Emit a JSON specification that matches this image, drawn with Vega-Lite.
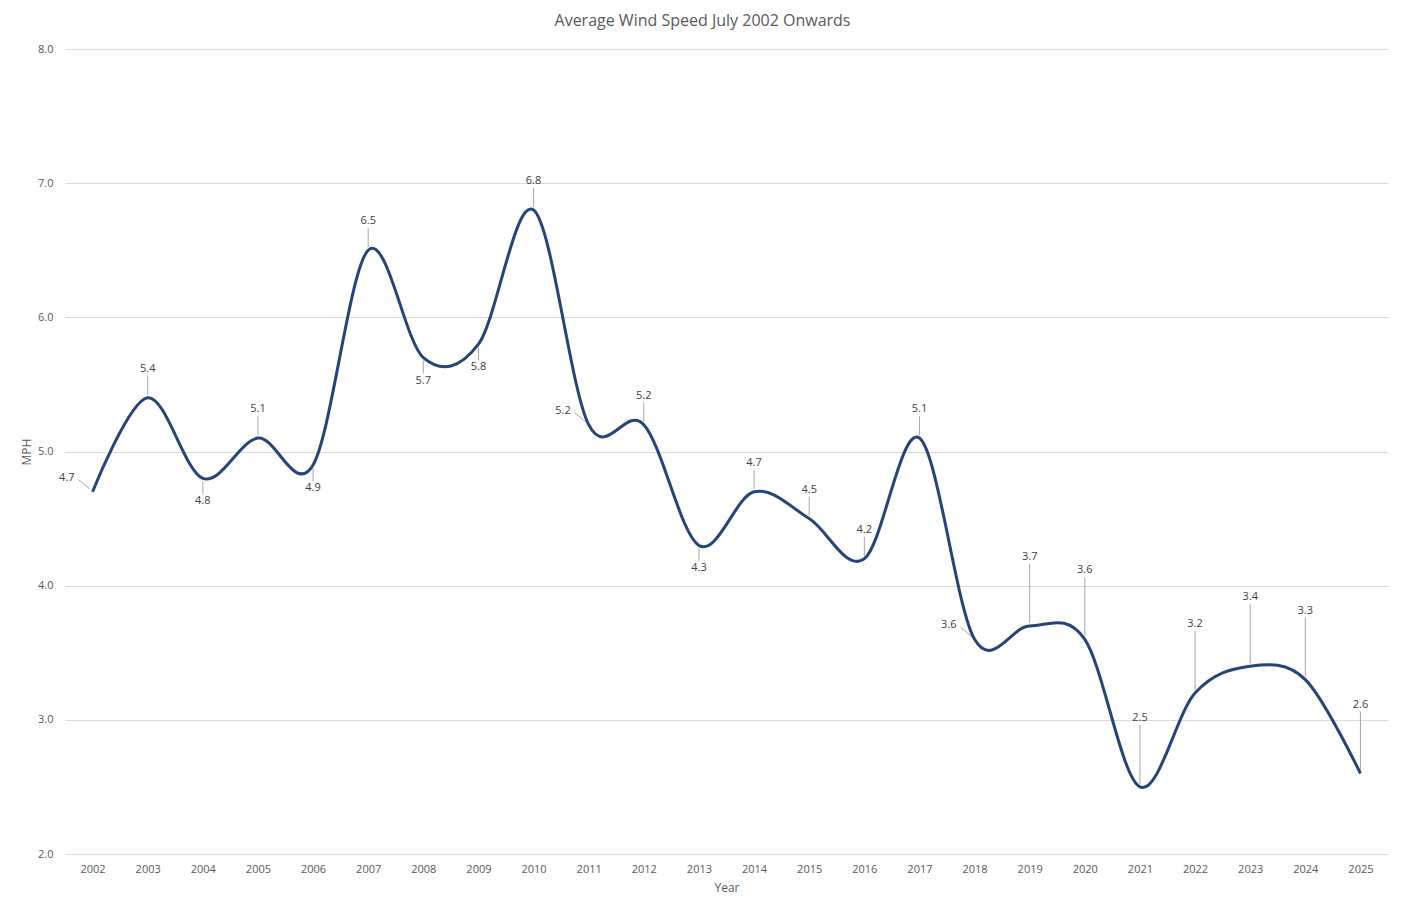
{
  "$schema": "https://vega.github.io/schema/vega-lite/v6.json",
  "autosize": "none",
  "width": 1323,
  "height": 805,
  "padding": {"left": 65, "top": 49, "right": 16, "bottom": 60},
  "background": "white",
  "config": {
    "font": "Open Sans",
    "view": {"stroke": null},
    "axis": {"labelColor": "#595959", "titleColor": "#595959", "labelFontSize": 11, "titleFontSize": 12, "titleFontWeight": "normal", "labelFont": "Open Sans", "titleFont": "Open Sans"}
  },
  "title": {"text": "Average Wind Speed July 2002 Onwards", "fontSize": 16, "fontWeight": "normal", "color": "#595959", "offset": 14, "dx": -24, "font": "Open Sans"},
  "data": {"values": [
    {"Year": 2002, "MPH": 4.7}, {"Year": 2003, "MPH": 5.4}, {"Year": 2004, "MPH": 4.8},
    {"Year": 2005, "MPH": 5.1}, {"Year": 2006, "MPH": 4.9}, {"Year": 2007, "MPH": 6.5},
    {"Year": 2008, "MPH": 5.7}, {"Year": 2009, "MPH": 5.8}, {"Year": 2010, "MPH": 6.8},
    {"Year": 2011, "MPH": 5.2}, {"Year": 2012, "MPH": 5.2}, {"Year": 2013, "MPH": 4.3},
    {"Year": 2014, "MPH": 4.7}, {"Year": 2015, "MPH": 4.5}, {"Year": 2016, "MPH": 4.2},
    {"Year": 2017, "MPH": 5.1}, {"Year": 2018, "MPH": 3.6}, {"Year": 2019, "MPH": 3.7},
    {"Year": 2020, "MPH": 3.6}, {"Year": 2021, "MPH": 2.5}, {"Year": 2022, "MPH": 3.2},
    {"Year": 2023, "MPH": 3.4}, {"Year": 2024, "MPH": 3.3}, {"Year": 2025, "MPH": 2.6}
  ]},
  "encoding": {
    "x": {"field": "Year", "type": "ordinal", "scale": {"type": "point", "padding": 0.5},
          "axis": {"title": "Year", "labelAngle": 0, "domain": false, "ticks": false, "labelPadding": 9, "titlePadding": 8, "grid": false}},
    "y": {"field": "MPH", "type": "quantitative", "scale": {"domain": [2, 8], "nice": false},
          "axis": {"title": "MPH", "values": [2, 3, 4, 5, 6, 7, 8], "format": ".1f", "domain": false, "ticks": false, "labelPadding": 12, "titlePadding": 4, "gridColor": "#d9d9d9", "gridWidth": 1}}
  },
  "layer": [
    {"transform": [{"filter": {"field": "Year", "oneOf": [2003, 2005, 2007, 2010, 2012, 2014, 2015, 2016, 2017]}}],
     "mark": {"type": "rule", "color": "#a6a6a6", "strokeWidth": 1, "yOffset": -3, "y2Offset": -22},
     "encoding": {"y2": {"field": "MPH"}}},
    {"transform": [{"filter": {"field": "Year", "oneOf": [2019, 2020, 2021, 2022, 2023, 2024, 2025]}}],
     "mark": {"type": "rule", "color": "#a6a6a6", "strokeWidth": 1, "yOffset": -3, "y2Offset": -62},
     "encoding": {"y2": {"field": "MPH"}}},
    {"transform": [{"filter": {"field": "Year", "oneOf": [2004, 2006, 2008, 2009, 2013]}}],
     "mark": {"type": "rule", "color": "#a6a6a6", "strokeWidth": 1, "yOffset": 3, "y2Offset": 16},
     "encoding": {"y2": {"field": "MPH"}}},
    {"transform": [{"filter": {"field": "Year", "oneOf": [2002, 2011, 2018]}}],
     "mark": {"type": "rule", "color": "#a6a6a6", "strokeWidth": 1, "xOffset": -3, "x2Offset": -14, "yOffset": -3, "y2Offset": -12},
     "encoding": {"x2": {"field": "Year"}, "y2": {"field": "MPH"}}},
    {"mark": {"type": "line", "interpolate": "cardinal", "tension": 0, "color": "#264478", "strokeWidth": 3},
     "encoding": {}},
    {"transform": [{"filter": {"field": "Year", "oneOf": [2003, 2005, 2007, 2010, 2012, 2014, 2015, 2016, 2017]}}],
     "mark": {"type": "text", "baseline": "bottom", "dy": -24, "fontSize": 11, "color": "#404040", "font": "Open Sans"},
     "encoding": {"text": {"field": "MPH", "format": ".1f"}}},
    {"transform": [{"filter": {"field": "Year", "oneOf": [2019, 2020, 2021, 2022, 2023, 2024, 2025]}}],
     "mark": {"type": "text", "baseline": "bottom", "dy": -64, "fontSize": 11, "color": "#404040", "font": "Open Sans"},
     "encoding": {"text": {"field": "MPH", "format": ".1f"}}},
    {"transform": [{"filter": {"field": "Year", "oneOf": [2004, 2006, 2008, 2009, 2013]}}],
     "mark": {"type": "text", "baseline": "top", "dy": 17, "fontSize": 11, "color": "#404040", "font": "Open Sans"},
     "encoding": {"text": {"field": "MPH", "format": ".1f"}}},
    {"transform": [{"filter": {"field": "Year", "oneOf": [2002, 2011, 2018]}}],
     "mark": {"type": "text", "align": "right", "baseline": "middle", "dx": -18, "dy": -14, "fontSize": 11, "color": "#404040", "font": "Open Sans"},
     "encoding": {"text": {"field": "MPH", "format": ".1f"}}}
  ]
}
